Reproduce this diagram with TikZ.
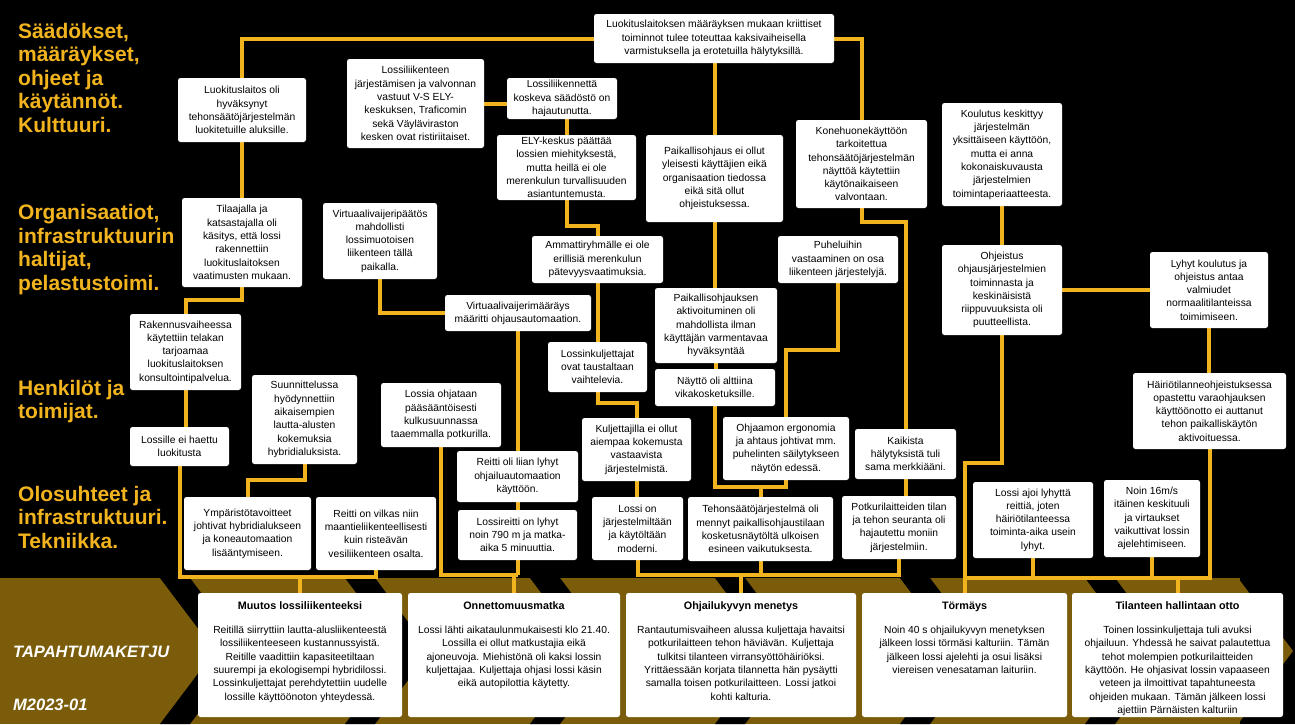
\documentclass[tikz,border=0pt]{standalone}
\usepackage{fontspec}
\setmainfont{Liberation Sans}
\usetikzlibrary{calc}
\definecolor{gold}{RGB}{242,180,30}
\definecolor{bandc}{RGB}{122,92,10}
\pgfdeclarelayer{bg}\pgfdeclarelayer{lines}
\pgfsetlayers{bg,lines,main}
\begin{document}
\begin{tikzpicture}[x=1pt,y=-1pt,
  box/.style={fill=white, rounded corners=2.5pt, align=center, inner sep=1pt,
    font=\fontsize{10.3}{13.3}\selectfont},
  sz/.style 2 args={minimum width=#1pt, minimum height=#2pt},
  evbox/.style={fill=white, rounded corners=2.5pt, inner sep=0pt, minimum height=124pt},
  evtitle/.style={font=\fontsize{10.8}{13}\selectfont\bfseries, anchor=base, inner sep=0pt},
  evbody/.style={font=\fontsize{10.3}{13.4}\selectfont, align=center, anchor=base, inner sep=0pt},
  link/.style={draw=gold, line width=4pt},
  head/.style={text=gold, font=\fontsize{21}{23.5}\selectfont\bfseries, align=left, anchor=base west, inner sep=0pt},
  chain/.style={text=white, font=\fontsize{16.5}{20}\selectfont\bfseries\itshape, anchor=base west, inner sep=0pt}]
\useasboundingbox (0,0) rectangle (1295,724);
\begin{pgfonlayer}{bg}
  \fill[black] (0,0) rectangle (1295,724);
  \fill[bandc] (0,578) rectangle (1240,724);
  \fill[bandc] (1238,578) -- (1293,651) -- (1238,724) -- cycle;
  \foreach \t in {160,345,530,715,900,1085} {
    \fill[black] (\t,578) -- ++(30,0) -- ++(55,73) -- ++(-55,73) -- ++(-30,0) -- ++(55,-73) -- cycle;
  }
\end{pgfonlayer}

% headings (anchored at the baseline of their last line)
\node[head] (h1) at (18,132) {Säädökset,\\määräykset,\\ohjeet ja\\käytännöt.\\Kulttuuri.};
\node[head] (h2) at (18,290) {Organisaatiot,\\infrastruktuurin\\haltijat,\\pelastustoimi.};
\node[head] (h3) at (18,418.5) {Henkilöt ja\\toimijat.};
\node[head] (h4) at (18,548) {Olosuhteet ja\\infrastruktuuri.\\Tekniikka.};
\node[chain] (t1) at (13,657) {TAPAHTUMAKETJU};
\node[chain] (t2) at (13,710) {M2023-01};

% row A
\node[box, sz={128}{64}] (a1) at (242,110) {Luokituslaitos oli\\hyväksynyt\\tehonsäätöjärjestelmän\\luokitetuille aluksille.};
\node[box, sz={137}{89}] (a2) at (415.5,103.5) {Lossiliikenteen\\järjestämisen ja valvonnan\\vastuut V-S ELY-\\keskuksen, Traficomin\\sekä Väyläviraston\\kesken ovat ristiriitaiset.};
\node[box, sz={110}{41}] (a3) at (562,98.5) {Lossiliikennettä\\koskeva säädöstö on\\hajautunutta.};
\node[box, sz={240}{49}] (a4) at (714,38.5) {Luokituslaitoksen määräyksen mukaan kriittiset\\toiminnot tulee toteuttaa kaksivaiheisella\\varmistuksella ja erotetuilla hälytyksillä.};
\node[box, sz={139}{65}] (a5) at (566.5,167.5) {ELY-keskus päättää\\lossien miehityksestä,\\mutta heillä ei ole\\merenkulun turvallisuuden\\asiantuntemusta.};
\node[box, sz={137}{87}] (a6) at (714.5,178.5) {Paikallisohjaus ei ollut\\yleisesti käyttäjien eikä\\organisaation tiedossa\\eikä sitä ollut\\ohjeistuksessa.};
\node[box, sz={131}{88}] (a7) at (861.5,164) {Konehuonekäyttöön\\tarkoitettua\\tehonsäätöjärjestelmän\\näyttöä käytettiin\\käytönaikaiseen\\valvontaan.};
\node[box, sz={120}{103}] (a8) at (1002,154.5) {Koulutus keskittyy\\järjestelmän\\yksittäiseen käyttöön,\\mutta ei anna\\kokonaiskuvausta\\järjestelmien\\toimintaperiaatteesta.};

% row B
\node[box, sz={120}{89}] (b1) at (242,242.5) {Tilaajalla ja\\katsastajalla oli\\käsitys, että lossi\\rakennettiin\\luokituslaitoksen\\vaatimusten mukaan.};
\node[box, sz={114}{76}] (b2) at (380,241) {Virtuaalivaijeripäätös\\mahdollisti\\lossimuotoisen\\liikenteen tällä\\paikalla.};
\node[box, sz={131}{47}] (b3) at (597.5,259.5) {Ammattiryhmälle ei ole\\erillisiä merenkulun\\pätevyysvaatimuksia.};
\node[box, sz={120}{47}] (b4) at (838,259.5) {Puheluihin\\vastaaminen on osa\\liikenteen järjestelyjä.};
\node[box, sz={120}{90}] (b5) at (1002,290) {Ohjeistus\\ohjausjärjestelmien\\toiminnasta ja\\keskinäisistä\\riippuvuuksista oli\\puutteellista.};
\node[box, sz={118}{76}] (b6) at (1209,290) {Lyhyt koulutus ja\\ohjeistus antaa\\valmiudet\\normaalitilanteissa\\toimimiseen.};
\node[box, sz={146}{36}] (b7) at (518,313) {Virtuaalivaijerimääräys\\määritti ohjausautomaation.};
\node[box, sz={122}{75}] (b8) at (716,325.5) {Paikallisohjauksen\\aktivoituminen oli\\mahdollista ilman\\käyttäjän varmentavaa\\hyväksyntää};
\node[box, sz={111}{76}] (b9) at (185.5,352) {Rakennusvaiheessa\\käytettiin telakan\\tarjoamaa\\luokituslaitoksen\\konsultointipalvelua.};
\node[box, sz={99}{50}] (b10) at (597.5,367) {Lossinkuljettajat\\ovat taustaltaan\\vaihtelevia.};
\node[box, sz={120}{37}] (b11) at (715,387.5) {Näyttö oli alttiina\\vikakosketuksille.};
\node[box, sz={153}{76}] (b12) at (1209.5,411) {Häiriötilanneohjeistuksessa\\opastettu varaohjauksen\\käyttöönotto ei auttanut\\tehon paikalliskäytön\\aktivoituessa.};

% row C
\node[box, sz={105}{89}] (c1) at (304.5,419.5) {Suunnittelussa\\hyödynnettiin\\aikaisempien\\lautta-alusten\\kokemuksia\\hybridialuksista.};
\node[box, sz={120}{64}] (c2) at (441,415) {Lossia ohjataan\\pääsääntöisesti\\kulkusuunnassa\\taaemmalla potkurilla.};
\node[box, sz={99}{39}] (c3) at (179.5,446.5) {Lossille ei haettu\\luokitusta};
\node[box, sz={109}{63}] (c4) at (636.5,449.5) {Kuljettajilla ei ollut\\aiempaa kokemusta\\vastaavista\\järjestelmistä.};
\node[box, sz={126}{63}] (c5) at (786,448.5) {Ohjaamon ergonomia\\ja ahtaus johtivat mm.\\puhelinten säilytykseen\\näytön edessä.};
\node[box, sz={101}{50}] (c6) at (905.5,454) {Kaikista\\hälytyksistä tuli\\sama merkkiääni.};
\node[box, sz={121}{51}] (c7) at (517.5,476.5) {Reitti oli liian lyhyt\\ohjailuautomaation\\käyttöön.};

% row D
\node[box, sz={127}{73}] (d1) at (247.5,533.5) {Ympäristötavoitteet\\johtivat hybridialukseen\\ja koneautomaation\\lisääntymiseen.};
\node[box, sz={120}{73}] (d2) at (376,533.5) {Reitti on vilkas niin\\maantieliikenteellisesti\\kuin risteävän\\vesiliikenteen osalta.};
\node[box, sz={119}{50}] (d3) at (517.5,535) {Lossireitti on lyhyt\\noin 790 m ja matka-\\aika 5 minuuttia.};
\node[box, sz={91}{63}] (d4) at (637.5,528.5) {Lossi on\\järjestelmiltään\\ja käytöltään\\moderni.};
\node[box, sz={145}{64}] (d5) at (760.5,529) {Tehonsäätöjärjestelmä oli\\mennyt paikallisohjaustilaan\\kosketusnäytöltä ulkoisen\\esineen vaikutuksesta.};
\node[box, sz={114}{63}] (d6) at (899,527.5) {Potkurilaitteiden tilan\\ja tehon seuranta oli\\hajautettu moniin\\järjestelmiin.};
\node[box, sz={120}{76}] (d7) at (1033,520) {Lossi ajoi lyhyttä\\reittiä, joten\\häiriötilanteessa\\toiminta-aika usein\\lyhyt.};
\node[box, sz={96}{77}] (d8) at (1152,518.5) {Noin 16m/s\\itäinen keskituuli\\ja virtaukset\\vaikuttivat lossin\\ajelehtimiseen.};

% events
\node[evbox, minimum width=204pt] (e1) at (300,655) {};
\node[evbox, minimum width=212pt] (e2) at (514,655) {};
\node[evbox, minimum width=230pt] (e3) at (741,655) {};
\node[evbox, minimum width=205pt] (e4) at (964.5,655) {};
\node[evbox, minimum width=211pt] (e5) at (1177.5,655) {};
\foreach \e/\ti in {e1/Muutos lossiliikenteeksi, e2/Onnettomuusmatka, e3/Ohjailukyvyn menetys, e4/Törmäys, e5/Tilanteen hallintaan otto} {
  \node[evtitle] (\e t) at ($(\e.north)+(0,17)$) {\ti};
}
% body nodes anchored at the baseline of their last line
\node[evbody] (e1b) at ($(e1.north)+(0,107.5)$) {Reitillä siirryttiin lautta-alusliikenteestä\\lossiliikenteeseen kustannussyistä.\\Reitille vaadittiin kapasiteetiltaan\\suurempi ja ekologisempi hybridilossi.\\Lossinkuljettajat perehdytettiin uudelle\\lossille käyttöönoton yhteydessä.};
\node[evbody] (e2b) at ($(e2.north)+(0,94.1)$) {Lossi lähti aikataulunmukaisesti klo 21.40.\\Lossilla ei ollut matkustajia eikä\\ajoneuvoja. Miehistönä oli kaksi lossin\\kuljettajaa. Kuljettaja ohjasi lossi käsin\\eikä autopilottia käytetty.};
\node[evbody] (e3b) at ($(e3.north)+(0,107.5)$) {Rantautumisvaiheen alussa kuljettaja havaitsi\\potkurilaitteen tehon häviävän. Kuljettaja\\tulkitsi tilanteen virransyöttöhäiriöksi.\\Yrittäessään korjata tilannetta hän pysäytti\\samalla toisen potkurilaitteen. Lossi jatkoi\\kohti kalturia.};
\node[evbody] (e4b) at ($(e4.north)+(0,80.7)$) {Noin 40 s ohjailukyvyn menetyksen\\jälkeen lossi törmäsi kalturiin. Tämän\\jälkeen lossi ajelehti ja osui lisäksi\\viereisen venesataman laituriin.};
\node[evbody] (e5b) at ($(e5.north)+(0,120.9)$) {Toinen lossinkuljettaja tuli avuksi\\ohjailuun. Yhdessä he saivat palautettua\\tehot molempien potkurilaitteiden\\käyttöön. He ohjasivat lossin vapaaseen\\veteen ja ilmoittivat tapahtuneesta\\ohjeiden mukaan. Tämän jälkeen lossi\\ajettiin Pärnäisten kalturiin};

% junction coordinates
\coordinate (busL) at (179.5,577);
\coordinate (busLR) at (376,577);
\coordinate (busM) at (517.5,575);
\coordinate (bus3L) at (637.5,575);
\coordinate (bus3R) at (899,575);
\coordinate (bus4L) at (964.5,578);
\coordinate (bus4R) at (1209.5,578);
\coordinate (j1) at (760.5,487);

\begin{pgfonlayer}{lines}
  % left column
  \draw[link] (a1.north) |- (a4.west);
  \draw[link] (a1.south) -- (b1.north);
  \draw[link] (b1.south) -- ++(0,13) -| (b9.north);
  \draw[link] (b9.south) -- (b9.south |- c3.north);
  \draw[link] (c3.south) -- (busL) -- (busLR) -- (d2.south);
  \draw[link] (e1.north) -- (e1.north |- busL);
  \draw[link] (c1.south) -- ++(0,16) -| (d1.north);
  % middle-left
  \draw[link] (a2.east) -- (a2.east -| a3.west);
  \draw[link] (a5.north |- a3.south) -- (a5.north);
  \draw[link] (a5.south) -- ++(0,26) -| (b3.north);
  \draw[link] (b3.south) -- (b10.north);
  \draw[link] (b10.south) -- ++(0,11) -| (c4.north);
  \draw[link] (c4.south) -- (c4.south |- d4.north);
  \draw[link] (b2.south) |- (b7.west);
  \draw[link] (b7.south) -- (b7.south |- c7.north);
  \draw[link] (c7.south) -- (d3.north);
  \draw[link] (d3.south) -- (busM);
  \draw[link] (c2.south) |- (busM);
  \draw[link] (e2.north) -- (e2.north |- busM);
  % middle
  \draw[link] (a6.north |- a4.south) -- (a6.north);
  \draw[link] (a6.south) -- (a6.south |- b8.north);
  \draw[link] (b8.south) -- (b8.south |- b11.north);
  \draw[link] (b11.south) |- (j1) -| (c5.south);
  \draw[link] (b4.south) -- ++(0,67) -| (c5.north);
  \draw[link] (j1) -- (d5.north);
  \draw[link] (d4.south) -- (bus3L) -- (bus3R) -- (d6.south);
  \draw[link] (d5.south) -- (d5.south |- bus3L);
  \draw[link] (e3.north) -- (e3.north |- bus3L);
  % right
  \draw[link] (a4.east) -| (a7.north);
  \draw[link] (a7.south) -- ++(0,14) -| (c6.north);
  \draw[link] (c6.south) -- (c6.south |- d6.north);
  \draw[link] (a8.south) -- (b5.north);
  \draw[link] (b5.east) -- (b6.west);
  \draw[link] (b6.south) -- (b6.south |- b12.north);
  \draw[link] (b5.south) -- ++(0,128) -| (e4.north);
  \draw[link] (bus4L) -- (bus4R) -- (b12.south);
  \draw[link] (d7.south) -- (d7.south |- bus4L);
  \draw[link] (d8.south) -- (d8.south |- bus4L);
  \draw[link] (e5.north) -- (e5.north |- bus4L);
\end{pgfonlayer}
\end{tikzpicture}
\end{document}
